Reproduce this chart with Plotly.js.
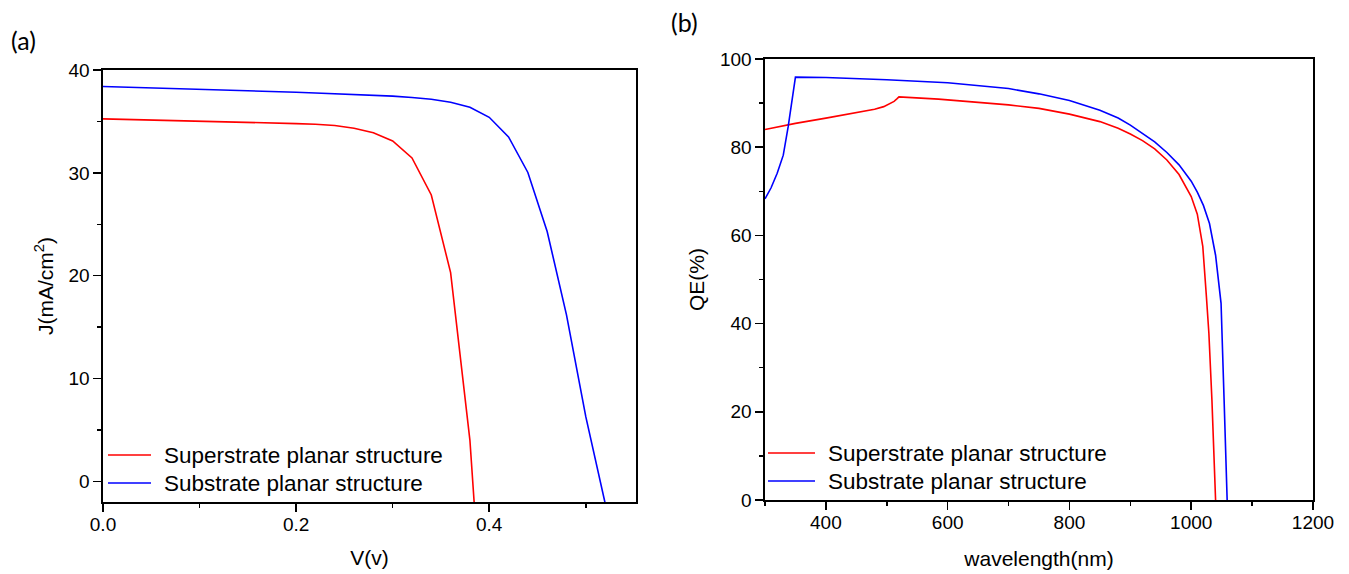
<!DOCTYPE html>
<html>
<head>
<meta charset="utf-8">
<script src="https://cdn.plot.ly/plotly-3.0.1.min.js"></script>
<style>html,body{margin:0;padding:0;background:#fff;}#chart{width:1349px;height:574px;}</style>
</head>
<body>
<div id="chart"></div>
<script>
// (a) J-V curves
const jvSuperV = [0, 0.02, 0.04, 0.06, 0.08, 0.10, 0.12, 0.14, 0.16, 0.18, 0.20, 0.22, 0.24, 0.26, 0.28, 0.30, 0.32, 0.34, 0.36, 0.38, 0.3845];
const jvSuperJ = [35.25, 35.21, 35.17, 35.12, 35.08, 35.04, 35.0, 34.95, 34.9, 34.85, 34.79, 34.72, 34.6, 34.33, 33.9, 33.1, 31.45, 27.85, 20.3, 4.0, -2.2];
const jvSubV = [0, 0.02, 0.04, 0.06, 0.08, 0.10, 0.12, 0.14, 0.16, 0.18, 0.20, 0.22, 0.24, 0.26, 0.28, 0.30, 0.32, 0.34, 0.36, 0.38, 0.40, 0.42, 0.44, 0.46, 0.48, 0.50, 0.52];
const jvSubJ = [38.4, 38.35, 38.3, 38.24, 38.19, 38.14, 38.08, 38.02, 37.96, 37.9, 37.84, 37.77, 37.71, 37.64, 37.56, 37.46, 37.33, 37.15, 36.86, 36.37, 35.4, 33.5, 30.04, 24.3, 16.2, 6.3, -2.1];

// (b) QE spectra
const qeSuperNm = [300, 350, 400, 450, 480, 495, 505, 512, 517, 520, 585, 650, 700, 750, 800, 850, 880, 900, 920, 940, 960, 980, 1000, 1010, 1019, 1025, 1029, 1034, 1040];
const qeSuperQE = [84.0, 85.4, 86.6, 87.8, 88.6, 89.2, 89.8, 90.4, 91.0, 91.4, 90.9, 90.2, 89.6, 88.8, 87.5, 85.8, 84.3, 83.0, 81.5, 79.6, 77.1, 73.8, 68.8, 64.8, 57.5, 46.0, 37.8, 22.7, 0];
const qeSubNm = [300, 310, 320, 330, 338, 350, 400, 500, 600, 700, 750, 800, 850, 880, 900, 920, 940, 960, 980, 1000, 1010, 1020, 1030, 1040, 1049, 1054, 1059];
const qeSubQE = [68.3, 70.8, 74.1, 78.2, 84.6, 95.9, 95.8, 95.3, 94.6, 93.3, 92.1, 90.6, 88.4, 86.6, 85.0, 83.2, 81.2, 78.8, 76.0, 72.3, 69.8, 66.8, 62.7, 55.5, 44.6, 22.7, 0];

const seriesNames = ['Superstrate planar structure', 'Substrate planar structure'];
const seriesColors = ['#ff0000', '#0000ff'];

const FONT = 'Liberation Sans, Arial, sans-serif';
const W = 1349, H = 574;

const traces = [
  {x: jvSuperV, y: jvSuperJ, xaxis: 'x', yaxis: 'y', name: seriesNames[0],
   mode: 'lines', line: {color: seriesColors[0], width: 1.6}},
  {x: jvSubV, y: jvSubJ, xaxis: 'x', yaxis: 'y', name: seriesNames[1],
   mode: 'lines', line: {color: seriesColors[1], width: 1.6}},
  {x: qeSuperNm, y: qeSuperQE, xaxis: 'x2', yaxis: 'y2', name: seriesNames[0],
   mode: 'lines', line: {color: seriesColors[0], width: 1.6}},
  {x: qeSubNm, y: qeSubQE, xaxis: 'x2', yaxis: 'y2', name: seriesNames[1],
   mode: 'lines', line: {color: seriesColors[1], width: 1.6}}
];

function axisBase(extra) {
  return Object.assign({
    showline: true, linecolor: '#000', linewidth: 1.6, mirror: true,
    showgrid: false, zeroline: false,
    ticks: 'outside', ticklen: 8, tickwidth: 1.5, tickcolor: '#000',
    tickfont: {family: FONT, size: 19, color: '#000'},
    fixedrange: true
  }, extra);
}

// legend drawn as line samples + labels placed in each panel (positions in px)
const legendRows = [
  {x0: 108, x1: 151, tx: 162, y: 455, i: 0},
  {x0: 108, x1: 151, tx: 162, y: 483, i: 1},
  {x0: 768, x1: 815, tx: 826, y: 453, i: 0},
  {x0: 768, x1: 815, tx: 826, y: 481, i: 1}
];
const shapes = legendRows.map(r => ({
  type: 'line', xref: 'paper', yref: 'paper',
  x0: r.x0 / W, x1: r.x1 / W, y0: 1 - r.y / H, y1: 1 - r.y / H,
  line: {color: seriesColors[r.i], width: 1.6}
}));
const annotations = legendRows.map(r => ({
  text: seriesNames[r.i], xref: 'paper', yref: 'paper',
  x: r.tx / W, y: 1 - r.y / H, xanchor: 'left', yanchor: 'middle',
  showarrow: false, font: {family: FONT, size: 22.5, color: '#000'}
}));
annotations.push(
  {text: '(a)', xref: 'paper', yref: 'paper', x: 9 / W, y: 1 - 40 / H, xanchor: 'left', yanchor: 'middle',
   showarrow: false, font: {family: 'Lato, Open Sans, sans-serif', size: 25, color: '#000'}},
  {text: '(b)', xref: 'paper', yref: 'paper', x: 669 / W, y: 1 - 22 / H, xanchor: 'left', yanchor: 'middle',
   showarrow: false, font: {family: 'Lato, Open Sans, sans-serif', size: 25, color: '#000'}}
);

const layout = {
  width: W, height: H,
  margin: {l: 0, r: 0, t: 0, b: 0},
  paper_bgcolor: '#fff', plot_bgcolor: '#fff',
  font: {family: FONT, color: '#000'},
  showlegend: false,
  xaxis: axisBase({
    domain: [103 / W, 636 / W], anchor: 'y', range: [0, 0.552],
    tickmode: 'linear', tick0: 0, dtick: 0.2, tickformat: '.1f', ticklabelstandoff: -3,
    minor: {dtick: 0.1, ticks: 'outside', ticklen: 4, tickwidth: 1.5, tickcolor: '#000'},
    title: {text: 'V(v)', font: {family: FONT, size: 21, color: '#000'}, standoff: 16}
  }),
  yaxis: axisBase({
    domain: [1 - 502 / H, 1 - 70 / H], anchor: 'x', range: [-2, 40],
    tickmode: 'linear', tick0: 0, dtick: 10,
    minor: {dtick: 5, ticks: 'outside', ticklen: 4, tickwidth: 1.5, tickcolor: '#000'},
    title: {text: 'J(mA/cm<sup>2</sup>)', font: {family: FONT, size: 21, color: '#000'}, standoff: 9}
  }),
  xaxis2: axisBase({
    domain: [765 / W, 1313 / W], anchor: 'y2', range: [300, 1200],
    tickmode: 'linear', tick0: 0, dtick: 200, ticklabelstandoff: -3,
    minor: {dtick: 100, ticks: 'outside', ticklen: 4, tickwidth: 1.5, tickcolor: '#000'},
    title: {text: 'wavelength(nm)', font: {family: FONT, size: 21, color: '#000'}, standoff: 19}
  }),
  yaxis2: axisBase({
    domain: [1 - 500 / H, 1 - 59 / H], anchor: 'x2', range: [0, 100],
    tickmode: 'linear', tick0: 0, dtick: 20,
    minor: {dtick: 10, ticks: 'outside', ticklen: 4, tickwidth: 1.5, tickcolor: '#000'},
    title: {text: 'QE(%)', font: {family: FONT, size: 21, color: '#000'}, standoff: 9}
  }),
  shapes: shapes,
  annotations: annotations,
  hovermode: false
};

Plotly.newPlot('chart', traces, layout, {staticPlot: true, displayModeBar: false});
</script>
</body>
</html>
